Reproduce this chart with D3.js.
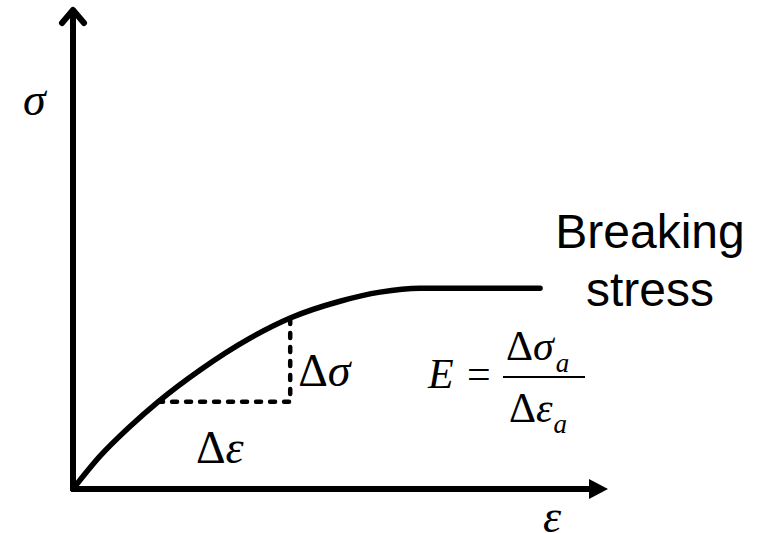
<!DOCTYPE html>
<html>
<head>
<meta charset="utf-8">
<script src="https://cdn.jsdelivr.net/npm/d3@7"></script>
<style>
  html, body { margin: 0; padding: 0; background: #fff; }
  svg { display: block; }
</style>
</head>
<body>
<svg id="chart" width="760" height="533"></svg>
<script>
// Stress–strain curve (normalised units): strain on x, stress on y
const strain = [0, 0.05, 0.106, 0.159, 0.237, 0.331, 0.406, 0.499, 0.574, 0.649, 0.873];
const stress = [0, 0.068, 0.130, 0.182, 0.248, 0.315, 0.357, 0.392, 0.411, 0.419, 0.419];

// Secant triangle used to read the modulus: start and end indices on the curve
const secantPoints = [3, 6];

// Axis extents (end of each arrow)
const axisMax = { strain: 1.0, stress: 1.0 };

const svg = d3.select("#chart");

const x = d3.scaleLinear().domain([0, axisMax.strain]).range([73, 608]);
const y = d3.scaleLinear().domain([0, axisMax.stress]).range([489, 10]);

const ink = "#000";

// ---- axes ----
const axes = svg.append("g");
// y axis with open chevron head
axes.append("line")
  .attr("x1", x(0)).attr("y1", y(0))
  .attr("x2", x(0)).attr("y2", y(axisMax.stress) + 2)
  .attr("stroke", ink).attr("stroke-width", 6).attr("stroke-linecap", "round");
axes.append("path")
  .attr("d", `M${x(0) - 11},${y(axisMax.stress) + 13} L${x(0)},${y(axisMax.stress)} L${x(0) + 11},${y(axisMax.stress) + 13}`)
  .attr("fill", "none").attr("stroke", ink).attr("stroke-width", 6)
  .attr("stroke-linecap", "round").attr("stroke-linejoin", "round");

// x axis with filled triangular head
const tipX = x(axisMax.strain);
axes.append("line")
  .attr("x1", x(0)).attr("y1", y(0))
  .attr("x2", tipX - 16).attr("y2", y(0))
  .attr("stroke", ink).attr("stroke-width", 6).attr("stroke-linecap", "round");
axes.append("path")
  .attr("d", `M${tipX},${y(0)} L${tipX - 19},${y(0) - 10} L${tipX - 19},${y(0) + 10} Z`)
  .attr("fill", ink);

// ---- curve ----
const pts = strain.map((s, i) => [s, stress[i]]);
const line = d3.line().x(d => x(d[0])).y(d => y(d[1])).curve(d3.curveMonotoneX);
svg.append("path")
  .attr("d", line(pts))
  .attr("fill", "none").attr("stroke", ink).attr("stroke-width", 5.5)
  .attr("stroke-linejoin", "round").attr("stroke-linecap", "round");

// ---- dashed secant triangle ----
const a = pts[secantPoints[0]], b = pts[secantPoints[1]];
svg.append("path")
  .attr("d", `M${x(a[0])},${y(a[1])} L${x(b[0])},${y(a[1])} L${x(b[0])},${y(b[1])}`)
  .attr("fill", "none").attr("stroke", ink).attr("stroke-width", 4.5)
  .attr("stroke-dasharray", "5,9").attr("stroke-linecap", "round");

// ---- labels ----
const serif = "'Liberation Serif', 'Times New Roman', serif";
const sans = "'Liberation Sans', Arial, sans-serif";

// axis symbols
svg.append("text").attr("x", 23).attr("y", 115)
  .attr("font-family", serif).attr("font-style", "italic").attr("font-size", 46)
  .text("σ");
svg.append("text").attr("x", 543).attr("y", 532)
  .attr("font-family", serif).attr("font-style", "italic").attr("font-size", 46)
  .text("ε");

// increments beside the secant triangle
const dEps = svg.append("text").attr("x", 196).attr("y", 463)
  .attr("font-family", serif).attr("font-size", 46);
dEps.append("tspan").text("Δ");
dEps.append("tspan").attr("font-style", "italic").text("ε");

const dSig = svg.append("text").attr("x", x(b[0]) + 8).attr("y", 386)
  .attr("font-family", serif).attr("font-size", 46);
dSig.append("tspan").text("Δ");
dSig.append("tspan").attr("font-style", "italic").text("σ");

// modulus formula
svg.append("text").attr("x", 428).attr("y", 388)
  .attr("font-family", serif).attr("font-style", "italic").attr("font-size", 42)
  .text("E");
svg.append("text").attr("x", 467).attr("y", 388)
  .attr("font-family", serif).attr("font-size", 42)
  .text("=");
svg.append("line")
  .attr("x1", 503).attr("x2", 585).attr("y1", 377).attr("y2", 377)
  .attr("stroke", ink).attr("stroke-width", 2);

const num = svg.append("text").attr("x", 506).attr("y", 360)
  .attr("font-family", serif).attr("font-size", 42);
num.append("tspan").text("Δ");
num.append("tspan").attr("font-style", "italic").text("σ");
num.append("tspan").attr("font-style", "italic").attr("font-size", 27).attr("dy", 12).attr("dx", 2).text("a");

const den = svg.append("text").attr("x", 509).attr("y", 422)
  .attr("font-family", serif).attr("font-size", 42);
den.append("tspan").text("Δ");
den.append("tspan").attr("font-style", "italic").text("ε");
den.append("tspan").attr("font-style", "italic").attr("font-size", 27).attr("dy", 11).attr("dx", 1).text("a");

// annotation at the plateau
svg.append("text").attr("x", 650).attr("y", 248)
  .attr("text-anchor", "middle").attr("font-family", sans).attr("font-size", 48)
  .text("Breaking");
svg.append("text").attr("x", 650).attr("y", 306)
  .attr("text-anchor", "middle").attr("font-family", sans).attr("font-size", 48)
  .text("stress");
</script>
</body>
</html>
